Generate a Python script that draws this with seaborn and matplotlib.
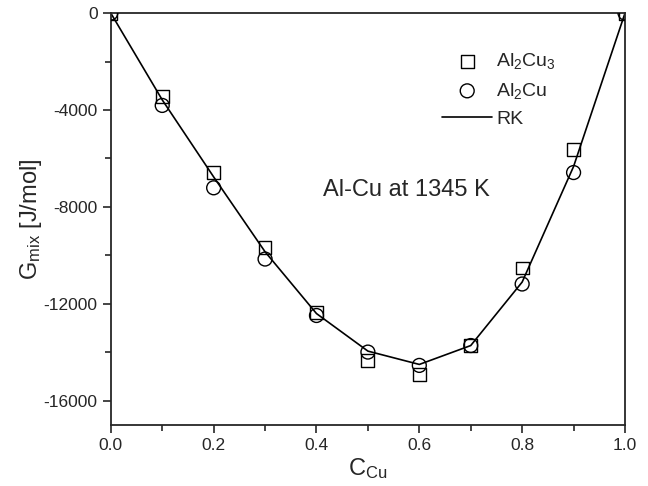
import numpy as np
import pandas as pd
import matplotlib
matplotlib.use('Agg')
import matplotlib.pyplot as plt
from matplotlib.ticker import MultipleLocator
import seaborn as sns

# composition (mole fraction Cu)
c_cu = [0.0, 0.1, 0.2, 0.3, 0.4, 0.5, 0.6, 0.7, 0.8, 0.9, 1.0]

# Gibbs energy of mixing [J/mol]
g_al2cu3 = [0, -3440, -6590, -9680, -12350, -14330, -14910, -13720, -10520, -5640, 0]
g_al2cu = [0, -3810, -7210, -10150, -12480, -13990, -14540, -13720, -11180, -6580, 0]
g_rk = [0, -3580, -6760, -9850, -12400, -13950, -14500, -13720, -11100, -6330, 0]

sns.set_style('ticks')
plt.rcParams['font.family'] = ['Liberation Sans', 'DejaVu Sans']
plt.rcParams['mathtext.fontset'] = 'custom'
plt.rcParams['mathtext.rm'] = 'Liberation Sans'
plt.rcParams['mathtext.it'] = 'Liberation Sans:italic'
plt.rcParams['axes.unicode_minus'] = False

df = pd.DataFrame({'c': c_cu, 'al2cu3': g_al2cu3, 'al2cu': g_al2cu, 'rk': g_rk})

fig = plt.figure(figsize=(6.48, 4.86), dpi=100)
ax = fig.add_axes([0.171, 0.1255, 0.7935, 0.8475])

sns.scatterplot(data=df, x='c', y='al2cu3', marker='s', s=85, facecolor='none',
                edgecolor='black', linewidth=1.0, ax=ax, label=r'Al$_2$Cu$_3$', zorder=3)
sns.scatterplot(data=df, x='c', y='al2cu', marker='o', s=100, facecolor='none',
                edgecolor='black', linewidth=1.0, ax=ax, label=r'Al$_2$Cu', zorder=3)
sns.lineplot(data=df, x='c', y='rk', color='black', linewidth=1.2, ax=ax, label='RK')

ax.set_xlim(0, 1.0)
ax.set_ylim(-17000, 0)
ax.xaxis.set_major_locator(MultipleLocator(0.2))
ax.xaxis.set_minor_locator(MultipleLocator(0.1))
ax.yaxis.set_major_locator(MultipleLocator(4000))
ax.yaxis.set_minor_locator(MultipleLocator(2000))
ax.tick_params(which='both', direction='out', top=False, right=False, labelsize=12.5)
ax.tick_params(which='major', length=6, width=1.2)
ax.tick_params(which='minor', length=4, width=1.2)
ax.xaxis.set_major_formatter(matplotlib.ticker.FormatStrFormatter('%.1f'))
for sp in ax.spines.values():
    sp.set_linewidth(1.3)
    sp.set_visible(True)

ax.set_xlabel(r'C$_{\mathrm{Cu}}$', fontsize=17, labelpad=2)
ax.set_ylabel(r'G$_{\mathrm{mix}}$ [J/mol]', fontsize=17, labelpad=0)

ax.text(0.575, -7300, 'Al-Cu at 1345 K', fontsize=17, ha='center', va='center')

leg = ax.legend(loc='upper right', bbox_to_anchor=(0.90, 0.95), frameon=False,
                fontsize=14, handlelength=2.6, handletextpad=0.2, labelspacing=0.5)

fig.savefig('out.png', dpi=100)
